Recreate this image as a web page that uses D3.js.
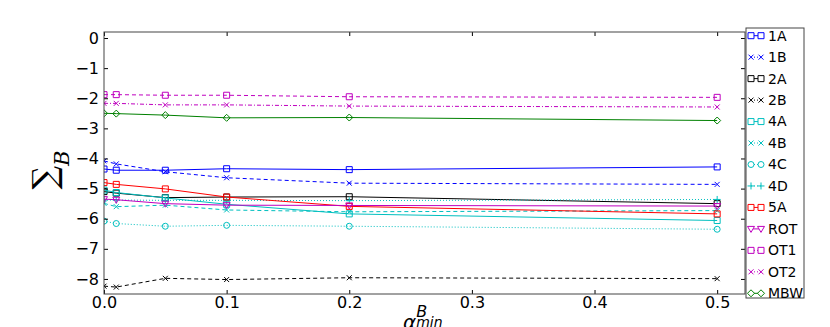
<!DOCTYPE html>
<meta charset="utf-8">
<style>
  body { margin: 0; background: #fff; }
  text { font-family: "DejaVu Sans", sans-serif; }
  .frame { fill: none; stroke: #444; stroke-width: 1; }
  .legend text { font-size: 14px; }
</style>
<body>
<svg width="830" height="327"></svg>
<script src="https://cdnjs.cloudflare.com/ajax/libs/d3/7.8.5/d3.min.js"></script>
<script>

// x positions of the runs
var alphaMin = [0, 0.01, 0.05, 0.1, 0.2, 0.5];

var s1A  = [-4.35, -4.39, -4.39, -4.34, -4.37, -4.28];
var s1B  = [-4.08, -4.18, -4.44, -4.64, -4.82, -4.86];
var s2A  = [-5.10, -5.15, -5.30, -5.28, -5.27, -5.50];
var s2B  = [-8.24, -8.27, -7.98, -8.02, -7.96, -7.99];
var s4A  = [-5.05, -5.13, -5.31, -5.52, -5.84, -6.06];
var s4B  = [-5.49, -5.60, -5.55, -5.71, -5.77, -5.73];
var s4C  = [-6.08, -6.16, -6.25, -6.22, -6.25, -6.35];
var s4D  = [-5.38, -5.38, -5.39, -5.39, -5.40, -5.36];
var s5A  = [-4.80, -4.86, -5.01, -5.28, -5.59, -5.84];
var sROT = [-5.35, -5.37, -5.50, -5.55, -5.56, -5.58];
var sOT1 = [-1.88, -1.88, -1.90, -1.90, -1.95, -1.97];
var sOT2 = [-2.17, -2.17, -2.22, -2.22, -2.26, -2.29];
var sMBW = [-2.50, -2.51, -2.56, -2.65, -2.64, -2.74];

var names = ["1A", "1B", "2A", "2B", "4A", "4B", "4C", "4D", "5A", "ROT", "OT1", "OT2", "MBW"];
var values = [s1A, s1B, s2A, s2B, s4A, s4B, s4C, s4D, s5A, sROT, sOT1, sOT2, sMBW];

var xTicks = [0, 0.1, 0.2, 0.3, 0.4, 0.5];
var yTicks = [0, -1, -2, -3, -4, -5, -6, -7, -8];

// matplotlib-ish styles
var colors = {
    "1A": "#0000ff", "1B": "#0000ff", "2A": "#000000", "2B": "#000000",
    "4A": "#00bfbf", "4B": "#00bfbf", "4C": "#00bfbf", "4D": "#00bfbf",
    "5A": "#ff0000", "ROT": "#bf00bf", "OT1": "#bf00bf", "OT2": "#bf00bf", "MBW": "#008000"
};
var dashes = {
    "1A": null, "1B": "4,3", "2A": null, "2B": "4,3",
    "4A": null, "4B": "4,3", "4C": "1,2", "4D": "1,2",
    "5A": null, "ROT": null, "OT1": "4,3", "OT2": "4,2,1,2", "MBW": null
};
var markers = {
    "1A": "square", "1B": "x", "2A": "square", "2B": "x",
    "4A": "square", "4B": "x", "4C": "circle", "4D": "plus",
    "5A": "square", "ROT": "tri", "OT1": "square", "OT2": "x", "MBW": "diamond"
};

function markerPath(kind) {
    if (kind == "square") return "M-3,-3h6v6h-6z";
    if (kind == "x") return "M-2.5,-2.5L2.5,2.5M-2.5,2.5L2.5,-2.5";
    if (kind == "plus") return "M-3.5,0h7M0,-3.5v7";
    if (kind == "tri") return "M-3.5,-2.5L3.5,-2.5L0,3.5Z";
    if (kind == "diamond") return "M0,-3.5L3.5,0L0,3.5L-3.5,0Z";
    return d3.arc()({innerRadius: 0, outerRadius: 3, startAngle: 0, endAngle: 2 * Math.PI}); // circle
}

var svg = d3.select("svg");
var pLeft = 104, pRight = 745, pTop = 32, pBottom = 294;

var x = d3.scaleLinear().domain([0, 0.5227]).range([pLeft, pRight]);
var y = d3.scaleLinear().domain([-8.5, 0.2]).range([pBottom, pTop]);

svg.append("defs").append("clipPath").attr("id", "plotclip")
    .append("rect").attr("x", pLeft).attr("y", pTop)
    .attr("width", pRight - pLeft).attr("height", pBottom - pTop);

var series = names.map(function (n, i) {
    return {name: n, pts: alphaMin.map(function (a, j) { return [a, values[i][j]]; })};
});

var line = d3.line()
    .x(function (d) { return x(d[0]); })
    .y(function (d) { return y(d[1]); });

var plot = svg.append("g").attr("clip-path", "url(#plotclip)");

series.forEach(function (s) {
    plot.append("path")
        .attr("d", line(s.pts))
        .attr("fill", "none")
        .attr("stroke", colors[s.name])
        .attr("stroke-width", 1)
        .attr("stroke-dasharray", dashes[s.name]);

    plot.selectAll(null)
        .data(s.pts)
        .enter().append("path")
        .attr("transform", function (d) { return "translate(" + x(d[0]) + "," + y(d[1]) + ")"; })
        .attr("d", markerPath(markers[s.name]))
        .attr("fill", "none")
        .attr("stroke", colors[s.name])
        .attr("stroke-width", 1);
});

// axes, ticks pointing inwards on all sides
svg.append("g").attr("transform", "translate(0," + pBottom + ")")
    .call(d3.axisBottom(x).tickValues(xTicks).tickFormat(d3.format(".1f")).tickSizeInner(-4).tickSizeOuter(0).tickPadding(3));
svg.append("g").attr("transform", "translate(" + pLeft + ",0)")
    .call(d3.axisLeft(y).tickValues(yTicks).tickFormat(function (d) { return d == 0 ? "0" : "\u2212" + Math.abs(d); })
        .tickSizeInner(-4).tickSizeOuter(0).tickPadding(5));
svg.append("g").attr("transform", "translate(0," + pTop + ")")
    .call(d3.axisTop(x).tickValues(xTicks).tickFormat("").tickSizeInner(-4).tickSizeOuter(0));
svg.append("g").attr("transform", "translate(" + pRight + ",0)")
    .call(d3.axisRight(y).tickValues(yTicks).tickFormat("").tickSizeInner(-4).tickSizeOuter(0));

svg.selectAll(".domain").remove();
svg.selectAll(".tick line").attr("stroke", "#000");
svg.selectAll(".tick text").attr("fill", "#000").attr("font-size", 16).attr("font-family", "DejaVu Sans");

svg.append("rect").attr("class", "frame")
    .attr("x", pLeft).attr("y", pTop).attr("width", pRight - pLeft).attr("height", pBottom - pTop);

// axis labels
var yl = svg.append("text")
    .attr("transform", "translate(56,170) rotate(-90)")
    .attr("text-anchor", "middle");
yl.append("tspan").attr("font-size", "33px").attr("font-family", "DejaVu Serif").text("\u2211");
yl.append("tspan").attr("font-size", "21px").attr("font-style", "italic").attr("font-family", "DejaVu Serif")
    .attr("dy", 13).text("B");

var xl = svg.append("text").attr("x", 403).attr("y", 329)
    .attr("font-family", "DejaVu Serif").attr("font-style", "italic");
xl.append("tspan").attr("font-size", "20px").text("\u03b1");
xl.append("tspan").attr("font-size", "16px").attr("dy", -12).text("B");
xl.append("tspan").attr("font-size", "14px").attr("dx", -11).attr("dy", 10).text("min");

// legend
var legend = svg.append("g").attr("class", "legend");
legend.append("rect")
    .attr("x", 746).attr("y", 28).attr("width", 58).attr("height", 270)
    .attr("fill", "#fff").attr("stroke", "#444");

var row = d3.scalePoint().domain(names).range([35.7, 293.3]);

names.forEach(function (n) {
    var g = legend.append("g").attr("transform", "translate(0," + row(n) + ")");
    g.append("line").attr("x1", 751).attr("x2", 761)
        .attr("stroke", colors[n]).attr("stroke-dasharray", dashes[n] ? "1,2" : null);
    [751, 761].forEach(function (mx) {
        g.append("path").attr("transform", "translate(" + mx + ",0)")
            .attr("d", markerPath(markers[n]))
            .attr("fill", "#fff").attr("stroke", colors[n]);
    });
    g.append("text").attr("x", 768).attr("dy", "0.35em").text(n);
});

</script>
</body>
